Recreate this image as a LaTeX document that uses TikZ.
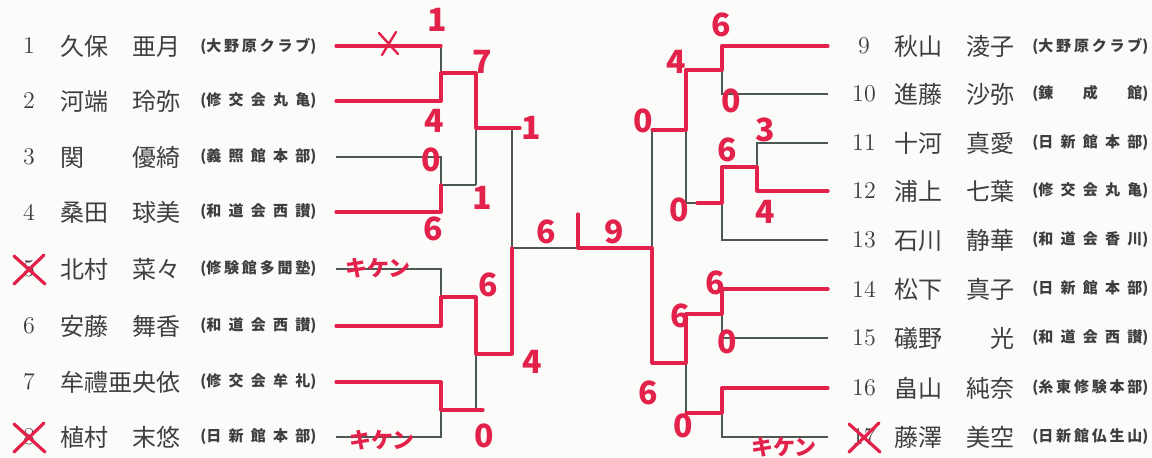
\documentclass[tikz,border=0pt]{standalone}
\usepackage{fontspec}
\newfontfamily\jpfont{Noto Sans CJK JP}
\definecolor{paper}{RGB}{251,251,249}
\definecolor{ink}{RGB}{62,62,62}
\definecolor{rule}{RGB}{78,88,82}
\definecolor{penred}{RGB}{226,34,74}
\newcommand{\clubbox}[1]{\makebox[58pt][s]{\spaceskip=0pt plus 1fil\relax #1}}
\newcommand{\namebox}[2]{\makebox[60pt][s]{#1\hfill #2}}
\tikzset{
  numlbl/.style={font=\fontsize{12}{12}\selectfont,text=ink,inner sep=0pt},
  namelbl/.style={font=\jpfont\fontsize{12}{12}\selectfont,text=ink,inner sep=0pt,
    anchor=west},
  clublbl/.style={font=\jpfont\bfseries\fontsize{7.5}{8}\selectfont,text=ink,
    inner sep=0pt,anchor=west},
  bline/.style={draw=rule,line width=0.6pt},
  pen/.style={draw=penred,line width=1.6pt,line cap=round,line join=round},
  score/.style={font=\jpfont\bfseries\fontsize{16}{16}\selectfont,text=penred,
    inner sep=0pt},
  kiken/.style={font=\jpfont\bfseries\fontsize{11}{11}\selectfont,text=penred,
    inner sep=0pt},
}
\begin{document}
\begin{tikzpicture}[x=0.5pt,y=-0.5pt]
  \fill[paper] (0,0) rectangle (1152,458);
  \useasboundingbox (0,0) rectangle (1152,458);
  \foreach \i/\y/\sur/\giv/\club in {1/46/久保/亜月/{(大 野 原 ク ラ ブ)},
      2/101/河端/玲弥/{(修 交 会 丸 亀)}, 3/157/関/優綺/{(義 照 館 本 部)},
      4/212/桑田/球美/{(和 道 会 西 讃)}, 5/269/北村/菜々/{(修 験 館 多 聞 塾)},
      6/326/安藤/舞香/{(和 道 会 西 讃)}, 7/382/牟禮/亜央依/{(修 交 会 牟 礼)},
      8/437/植村/末悠/{(日 新 館 本 部)}} {
    \node[numlbl] (n\i) at (29,\y) {\i};
    \node[namelbl] (p\i) at (60,\y) {\namebox{\sur}{\giv}};
    \node[clublbl] (c\i) at (200,\y) {\clubbox{\club}};
    \coordinate (a\i) at (336,\y);
    \coordinate (b\i) at (441,\y);
  }
  \foreach \i/\y/\x/\sur/\giv/\club in {9/46/722/秋山/淩子/{(大 野 原 ク ラ ブ)},
      10/94/722/進藤/沙弥/{(錬 成 館)}, 11/143/757/十河/真愛/{(日 新 館 本 部)},
      12/191/757/浦上/七葉/{(修 交 会 丸 亀)}, 13/240/722/石川/静華/{(和 道 会 香 川)},
      14/289/722/松下/真子/{(日 新 館 本 部)}, 15/338/722/礒野/光/{(和 道 会 西 讃)},
      16/388/722/畠山/純奈/{(糸 東 修 験 本 部)},
      17/437/722/藤澤/美空/{(日 新 館 仏 生 山)}} {
    \node[numlbl] (n\i) at (864,\y) {\i};
    \node[namelbl] (p\i) at (894,\y) {\namebox{\sur}{\giv}};
    \node[clublbl] (c\i) at (1032,\y) {\clubbox{\club}};
    \coordinate (a\i) at (828,\y);
    \coordinate (b\i) at (\x,\y);
  }
  \coordinate (j12) at (476,73);
  \coordinate (j34) at (476,185);
  \coordinate (j56) at (476,297);
  \coordinate (j78) at (476,410);
  \coordinate (k14) at (512,128);
  \coordinate (k58) at (512,354);
  \coordinate (cl) at (512,248);
  \coordinate (cr) at (652,248);
  \coordinate (tk) at (578,214);
  \coordinate (r1) at (686,70);
  \coordinate (r2) at (722,167);
  \coordinate (r3) at (686,203);
  \coordinate (r4) at (686,314);
  \coordinate (r5) at (686,413);
  \coordinate (s1) at (652,130);
  \coordinate (s2) at (652,363);
  \foreach \u/\v/\j in {1/2/j12, 3/4/j34, 5/6/j56, 7/8/j78, 9/10/r1, 11/12/r2,
      14/15/r4, 16/17/r5}
    \draw[bline] (a\u) -- (b\u) -- (b\v) -- (a\v) (b\u |- \j) -- (\j);
  \draw[bline] (j12) -- (j34) (j12 |- k14) -- (k14);
  \draw[bline] (j56) -- (j78) (j56 |- k58) -- (k58);
  \draw[bline] (k14) -- (k58) (cl) -- (cr);
  \draw[bline] (r2) -- (b13) -- (a13) (b13 |- r3) -- (r3);
  \draw[bline] (r1) -- (r3) (r1 |- s1) -- (s1);
  \draw[bline] (r4) -- (r5) (r4 |- s2) -- (s2);
  \draw[bline] (s1) -- (s2);
  \draw[pen] (a1) -- (b1);
  \draw[pen,line width=1.2pt] (379,33) -- (398,54) (396,32) -- (382,55);
  \draw[pen] (a2) -- (b2) -- (b1 |- j12) -- (j12) -- (j12 |- k14) -- (k14) -- ++(8,0);
  \draw[pen] (a4) -- (b4) -- (b4 |- j34);
  \draw[pen] (a6) -- (b6) -- (b6 |- j56) -- (j56) -- (j56 |- k58) -- (k58) -- (cl);
  \draw[pen] (a7) -- (b7) -- (b7 |- j78) -- (j78) -- ++(7,0);
  \draw[pen] (a9) -- (b9) -- (b9 |- r1) -- (r1) -- (r1 |- s1) -- (s1);
  \draw[pen] (a12) -- (b12) -- (b11 |- r2) -- (r2) -- (b13 |- r3) -- ++(-25,0);
  \draw[pen] (a14) -- (b14) -- (b14 |- r4) -- (r4) -- (r4 |- s2) -- (s2) -- (cr)
    -- (tk |- cr) -- (tk);
  \draw[pen] (a16) -- (b16) -- (b16 |- r5) -- (r5);
  \foreach \n in {n5,n8,n17}
    \draw[pen] ([shift={(-15,-13)}]\n.center) -- ++(31,28)
      ([shift={(15,-14)}]\n.center) -- ++(-30,29);
  \foreach \x/\y/\lab [count=\k] in {437/20/1, 434/121/4, 431/160/0, 433/229/6,
      482/62/7, 482/198/1, 531/128/1, 488/285/6, 484/436/0, 532/362/4,
      546/232/6, 614/232/9, 721/25/6, 731/101/0, 676/62/4, 643/121/0,
      765/130/3, 727/150/6, 765/212/4, 679/210/0, 715/283/6, 680/316/6,
      727/342/0, 648/393/6, 683/426/0}
    \node[score] (sc\k) at (\x,\y) {\lab};
  \foreach \x/\y [count=\k] in {378/268, 382/440, 784/447}
    \node[kiken] (kk\k) at (\x,\y) {キケン};
\end{tikzpicture}
\end{document}
